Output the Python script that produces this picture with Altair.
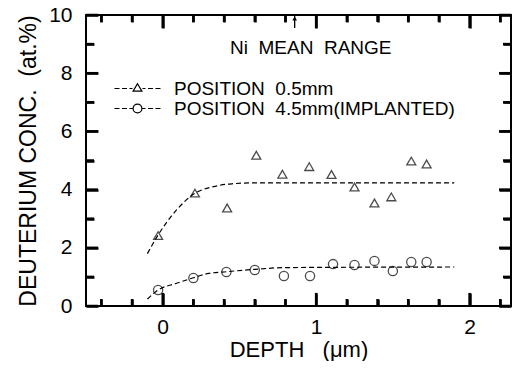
import altair as alt
import pandas as pd

# ---- data ----
NB = "\u00a0"
series_names = ["POSITION" + NB + NB + "0.5mm", "POSITION" + NB + NB + "4.5mm(IMPLANTED)"]

tri_x = [-0.03, 0.21, 0.42, 0.61, 0.78, 0.955, 1.10, 1.25, 1.38, 1.49, 1.62, 1.72]
tri_y = [2.42, 3.88, 3.37, 5.18, 4.53, 4.79, 4.52, 4.09, 3.54, 3.75, 4.98, 4.88]

circ_x = [-0.03, 0.20, 0.415, 0.60, 0.79, 0.96, 1.11, 1.25, 1.38, 1.50, 1.62, 1.72]
circ_y = [0.55, 0.96, 1.17, 1.24, 1.03, 1.03, 1.44, 1.41, 1.55, 1.20, 1.51, 1.51]

fit_tri_x = [-0.10, -0.03, 0.09, 0.21, 0.33, 0.45, 0.60, 0.90, 1.90]
fit_tri_y = [1.80, 2.44, 3.30, 3.87, 4.10, 4.20, 4.23, 4.23, 4.23]
fit_circ_x = [-0.10, -0.03, 0.09, 0.20, 0.30, 0.42, 0.60, 0.80, 1.90]
fit_circ_y = [0.24, 0.55, 0.78, 0.97, 1.12, 1.18, 1.26, 1.32, 1.34]

x_major = [0, 1, 2]
x_minor = [-0.4, -0.2, 0.2, 0.4, 0.6, 0.8, 1.2, 1.4, 1.6, 1.8, 2.2]
y_major = [0, 2, 4, 6, 8, 10]
y_minor = [1, 3, 5, 7, 9]

note_text = "Ni" + NB + NB + "MEAN" + NB + NB + "RANGE"
note_x = 0.965
note_y = 8.85
arrow_x = 0.86
arrow_y = [9.55, 10.0]

# ---- styling ----
FONT = "Liberation Sans"
W, H = 425, 291
X_DOM = [-0.5, 2.27]
Y_DOM = [0, 10]
# tick lengths in data units (about 7/13 px vertical, 8/12 px horizontal)
XT_MIN, XT_MAJ = 0.24, 0.45
YT_MIN, YT_MAJ = 0.052, 0.078
TICK_W = 2.5

P_TRI = ("M-5.75,0H-4.5M-3.875,0H-2.625M-2,0H-1.25M1.25,0H2M2.625,0H3.875M4.5,0H5.75"
         "M0,-1.2L1.1,0.65L-1.1,0.65Z")
P_CIR = ("M-5.75,0H-4.5M-3.875,0H-2.625M-2,0H-1.2M1.2,0H2M2.625,0H3.875M4.5,0H5.75"
         "M1.1,0A1.1,1.1,0,1,1,-1.1,0A1.1,1.1,0,1,1,1.1,0Z")

xs = alt.Scale(domain=X_DOM, nice=False, zero=False)
ys = alt.Scale(domain=Y_DOM, nice=False, zero=False)

x_axis = alt.Axis(orient="bottom", values=x_major, ticks=False, domain=False, grid=False,
                  labelFont=FONT, labelFontSize=21, labelColor="black", labelPadding=10,
                  format="d", title="DEPTH" + NB + NB + NB + "(\u03bcm)", titleFont=FONT,
                  titleFontSize=22, titleFontWeight="normal", titleColor="black",
                  titlePadding=2)
y_axis = alt.Axis(orient="left", values=y_major, ticks=False, domain=False, grid=False,
                  labelFont=FONT, labelFontSize=21, labelColor="black", labelPadding=14,
                  format="d", title="DEUTERIUM CONC." + NB + NB + "(at.%)", titleFont=FONT,
                  titleFontSize=23, titleFontWeight="normal", titleColor="black",
                  titlePadding=8)


def tick_axis(orient, values, size, offset):
    # an unlabeled axis moved onto the opposite frame edge so its ticks point inward
    return alt.Axis(orient=orient, values=values, tickSize=size, offset=offset,
                    tickColor="black", tickWidth=TICK_W, labels=False, domain=False,
                    grid=False, title=None, zindex=2)


def X(field, ax=None):
    return alt.X(field, scale=xs, axis=ax)


def Y(field, ax=None):
    return alt.Y(field, scale=ys, axis=ax)


fit_df = pd.DataFrame({
    "x": fit_tri_x + fit_circ_x,
    "y": fit_tri_y + fit_circ_y,
    "series": [series_names[0]] * len(fit_tri_x) + [series_names[1]] * len(fit_circ_x),
})
tri_df = pd.DataFrame({"x": tri_x, "y": tri_y})
circ_df = pd.DataFrame({"x": circ_x, "y": circ_y})
leg_df = pd.DataFrame({"x": [-5, -5], "y": [-5, -5], "series": series_names})

# inward tick marks drawn as rules, positioned through the x / y scales
tick_rows = []
for v in x_minor:
    tick_rows += [(v, Y_DOM[0], v, Y_DOM[0] + XT_MIN), (v, Y_DOM[1], v, Y_DOM[1] - XT_MIN)]
for v in x_major:
    tick_rows += [(v, Y_DOM[0], v, Y_DOM[0] + XT_MAJ), (v, Y_DOM[1], v, Y_DOM[1] - XT_MAJ)]
for v in y_minor:
    tick_rows += [(X_DOM[0], v, X_DOM[0] + YT_MIN, v), (X_DOM[1], v, X_DOM[1] - YT_MIN, v)]
for v in y_major:
    tick_rows += [(X_DOM[0], v, X_DOM[0] + YT_MAJ, v), (X_DOM[1], v, X_DOM[1] - YT_MAJ, v)]
tick_df = pd.DataFrame(tick_rows, columns=["x", "y", "x2", "y2"])

ticks = alt.Chart(tick_df).mark_rule(color="black", strokeWidth=TICK_W).encode(
    x=X("x:Q"), y=Y("y:Q"), x2="x2:Q", y2="y2:Q")

lines = alt.Chart(fit_df).mark_line(
    color="black", strokeWidth=1.2, strokeDash=[5, 3], interpolate="monotone"
).encode(x=X("x:Q", x_axis), y=Y("y:Q", y_axis), detail="series:N")

tris = alt.Chart(tri_df).mark_point(
    shape="triangle-up", filled=False, color="black", size=80, strokeWidth=1.3
).encode(x=X("x:Q", tick_axis("top", x_minor, 7, -H)),
         y=Y("y:Q", tick_axis("right", y_minor, 8, -W)))

circs = alt.Chart(circ_df).mark_point(
    shape="circle", filled=False, color="black", size=85, strokeWidth=1.3
).encode(x=X("x:Q", tick_axis("top", x_major, 13, -H)),
         y=Y("y:Q", tick_axis("right", y_major, 12, -W)))

legend_layer = alt.Chart(leg_df).mark_point(
    filled=False, color="black", strokeWidth=1.2, clip=True
).encode(
    x=X("x:Q", tick_axis("bottom", x_minor, 7, -H)),
    y=Y("y:Q", tick_axis("left", y_minor, 8, -W)),
    shape=alt.Shape("series:N", scale=alt.Scale(domain=series_names, range=[P_TRI, P_CIR]),
                    legend=alt.Legend(orient="none", legendX=42, legendY=64, title=None,
                                      labelFont=FONT, labelFontSize=19, labelColor="black",
                                      labelOffset=27, symbolSize=64, symbolStrokeColor="black",
                                      symbolFillColor="transparent", symbolStrokeWidth=1.2,
                                      symbolOpacity=1, padding=0, rowPadding=0, labelLimit=400)),
)

note = alt.Chart(pd.DataFrame({"x": [note_x], "y": [note_y], "t": [note_text]})).mark_text(
    font=FONT, fontSize=19, color="black", align="center", baseline="middle"
).encode(x=X("x:Q", tick_axis("bottom", x_major, 13, -H)),
         y=Y("y:Q", tick_axis("left", y_major, 12, -W)), text="t:N")

arrow_df = pd.DataFrame({"x": [arrow_x], "y": [arrow_y[0]], "y2": [arrow_y[1]]})
arrow_line = alt.Chart(arrow_df).mark_rule(color="black", strokeWidth=1.3).encode(
    x=X("x:Q"), y=Y("y:Q"), y2="y2:Q")
arrow_head = alt.Chart(pd.DataFrame({"x": [arrow_x], "y": [arrow_y[1] - 0.12]})).mark_point(
    shape="triangle-up", filled=True, color="black", size=22, opacity=1
).encode(x=X("x:Q"), y=Y("y:Q"))

chart = alt.layer(lines, tris, circs, legend_layer, note, arrow_line, arrow_head, ticks).resolve_scale(
    shape="independent"
).resolve_axis(
    x="independent", y="independent"
).properties(
    width=W, height=H,
    autosize=alt.AutoSizeParams(type="none"),
    padding={"left": 78, "top": 7, "right": 1, "bottom": 55},
    background="white",
).configure_view(stroke="black", strokeWidth=2)

chart.save("out.html", embed_options={"renderer": "svg", "actions": False})
